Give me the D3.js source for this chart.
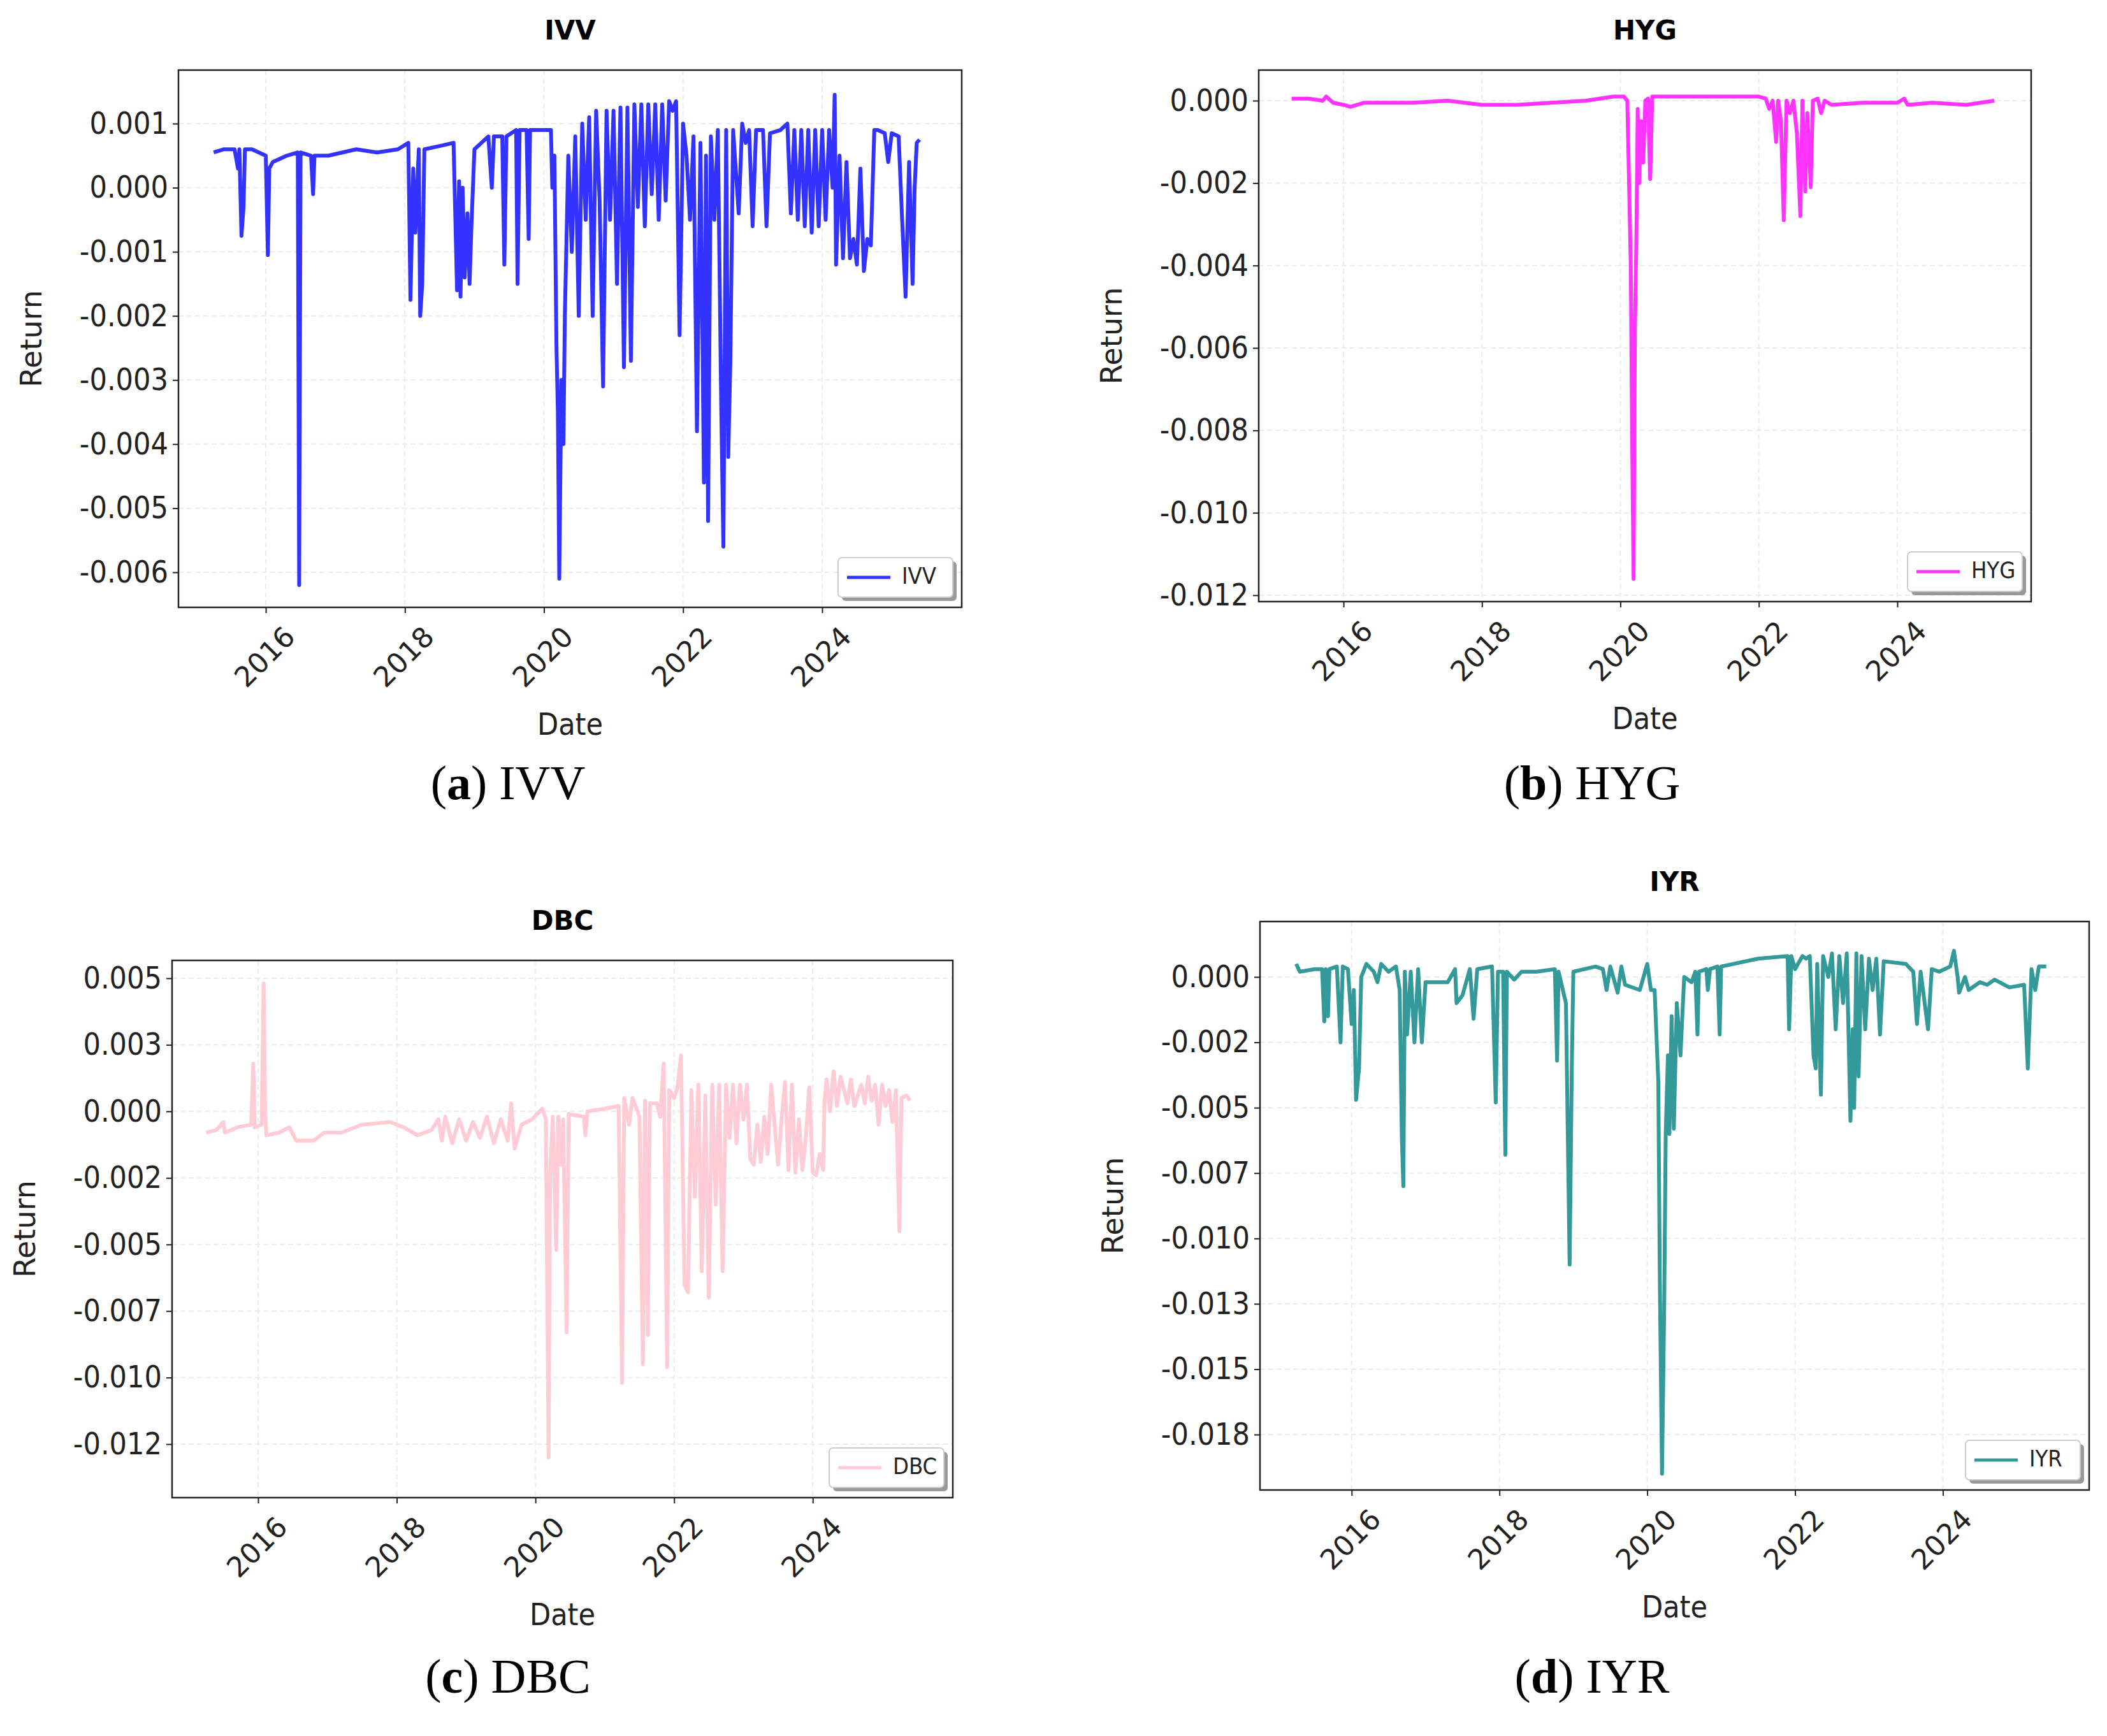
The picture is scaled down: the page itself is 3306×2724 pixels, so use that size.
<!DOCTYPE html>
<html>
<head>
<meta charset="utf-8">
<script src="https://cdn.jsdelivr.net/npm/d3@7"></script>
<style>
  body { margin: 0; background: #fff; }
  svg { display: block; }
</style>
</head>
<body>
<div id="chart"></div>
<script>
// valores en milésimas (x = año decimal, y = retorno * 1000)
const ivvData = [[2015.25,0.55],[2015.4,0.6],[2015.55,0.6],[2015.6,0.3],[2015.62,0.6],[2015.65,-0.75],[2015.68,-0.3],[2015.7,0.6],[2015.8,0.6],[2015.9,0.55],[2016.0,0.5],[2016.03,-1.05],[2016.05,0.3],[2016.1,0.4],[2016.3,0.5],[2016.46,0.55],[2016.48,-6.2],[2016.5,0.55],[2016.65,0.5],[2016.68,-0.1],[2016.7,0.5],[2016.9,0.5],[2017.3,0.6],[2017.6,0.55],[2017.9,0.6],[2018.05,0.7],[2018.08,-1.75],[2018.12,0.3],[2018.15,-0.7],[2018.2,0.6],[2018.22,-2.0],[2018.25,-1.5],[2018.28,0.6],[2018.5,0.65],[2018.7,0.7],[2018.75,-1.6],[2018.78,0.1],[2018.8,-1.7],[2018.83,0.0],[2018.86,-1.4],[2018.9,-0.4],[2018.93,-1.5],[2018.96,-0.5],[2019.0,0.6],[2019.1,0.7],[2019.2,0.8],[2019.25,0.0],[2019.28,0.8],[2019.4,0.8],[2019.43,-1.2],[2019.46,0.8],[2019.6,0.9],[2019.62,-1.5],[2019.65,0.9],[2019.75,0.9],[2019.78,-0.8],[2019.8,0.9],[2020.1,0.9],[2020.12,0.0],[2020.15,0.5],[2020.18,-2.5],[2020.2,-3.5],[2020.22,-6.1],[2020.25,-3.0],[2020.28,-4.0],[2020.3,-2.0],[2020.35,0.5],[2020.4,-1.0],[2020.45,0.8],[2020.5,-2.0],[2020.55,1.0],[2020.6,-0.5],[2020.65,1.1],[2020.7,-2.0],[2020.75,1.2],[2020.8,-0.2],[2020.85,-3.1],[2020.9,1.2],[2020.95,-0.5],[2021.0,1.2],[2021.05,-1.5],[2021.1,1.25],[2021.15,-2.8],[2021.2,1.25],[2021.25,-2.7],[2021.3,1.3],[2021.35,-0.3],[2021.4,1.3],[2021.45,-0.6],[2021.5,1.3],[2021.55,-0.1],[2021.6,1.3],[2021.65,-0.5],[2021.7,1.3],[2021.75,-0.2],[2021.8,1.35],[2021.85,1.2],[2021.9,1.35],[2021.95,-2.3],[2022.0,1.0],[2022.05,0.5],[2022.1,-0.5],[2022.15,0.8],[2022.2,-3.8],[2022.25,0.7],[2022.3,-4.6],[2022.33,0.5],[2022.36,-5.2],[2022.4,0.8],[2022.45,-0.5],[2022.5,0.9],[2022.55,-3.5],[2022.58,-5.6],[2022.62,0.9],[2022.65,-4.2],[2022.68,-2.7],[2022.72,0.9],[2022.8,-0.4],[2022.85,1.0],[2022.9,0.7],[2022.95,0.9],[2023.0,-0.6],[2023.05,0.9],[2023.15,0.9],[2023.2,-0.6],[2023.25,0.85],[2023.4,0.9],[2023.5,1.0],[2023.55,-0.4],[2023.6,0.9],[2023.65,-0.5],[2023.7,0.9],[2023.75,-0.6],[2023.8,0.9],[2023.85,-0.7],[2023.9,0.9],[2023.95,-0.6],[2024.0,0.9],[2024.05,-0.5],[2024.1,0.9],[2024.15,0.0],[2024.18,1.45],[2024.2,-1.2],[2024.25,0.5],[2024.3,-1.1],[2024.35,0.4],[2024.4,-1.1],[2024.45,-0.8],[2024.5,-1.2],[2024.55,0.3],[2024.6,-1.3],[2024.65,-0.8],[2024.7,-0.9],[2024.75,0.9],[2024.8,0.9],[2024.9,0.85],[2024.95,0.4],[2025.0,0.85],[2025.1,0.8],[2025.15,-0.5],[2025.2,-1.7],[2025.25,0.4],[2025.3,-1.5],[2025.33,0.0],[2025.36,0.7],[2025.4,0.75]];

const hygData = [[2015.25,0.05],[2015.5,0.05],[2015.7,0.0],[2015.75,0.1],[2015.85,-0.05],[2016.0,-0.1],[2016.1,-0.15],[2016.3,-0.05],[2017.0,-0.05],[2017.5,0.0],[2018.0,-0.1],[2018.5,-0.1],[2019.0,-0.05],[2019.5,0.0],[2019.9,0.1],[2020.05,0.1],[2020.1,0.0],[2020.15,-4.0],[2020.17,-8.3],[2020.19,-11.6],[2020.21,-5.5],[2020.23,-3.5],[2020.25,-0.2],[2020.27,-2.0],[2020.3,-0.5],[2020.33,-1.5],[2020.36,0.0],[2020.4,0.05],[2020.43,-1.9],[2020.46,0.1],[2021.0,0.1],[2021.5,0.1],[2022.0,0.1],[2022.1,0.05],[2022.15,-0.2],[2022.2,0.0],[2022.25,-1.0],[2022.28,0.0],[2022.32,-0.5],[2022.36,-2.9],[2022.4,0.0],[2022.45,-0.3],[2022.5,0.0],[2022.55,-0.8],[2022.6,-2.8],[2022.63,0.0],[2022.67,-2.2],[2022.7,-0.3],[2022.75,-2.1],[2022.78,0.0],[2022.85,0.05],[2022.9,-0.3],[2022.95,0.0],[2023.05,-0.1],[2023.5,-0.05],[2024.0,-0.05],[2024.1,0.05],[2024.15,-0.1],[2024.5,-0.05],[2025.0,-0.1],[2025.2,-0.05],[2025.4,0.0]];

const dbcData = [[2015.25,-0.8],[2015.4,-0.7],[2015.5,-0.4],[2015.52,-0.8],[2015.7,-0.6],[2015.9,-0.5],[2015.93,1.8],[2015.95,-0.6],[2016.05,-0.5],[2016.08,4.8],[2016.1,0.1],[2016.12,-0.9],[2016.3,-0.8],[2016.45,-0.6],[2016.55,-1.1],[2016.8,-1.1],[2016.95,-0.8],[2017.2,-0.8],[2017.5,-0.5],[2017.9,-0.4],[2018.1,-0.6],[2018.3,-0.9],[2018.5,-0.7],[2018.6,-0.3],[2018.65,-1.1],[2018.7,-0.2],[2018.8,-1.2],[2018.9,-0.3],[2019.0,-1.1],[2019.1,-0.4],[2019.2,-1.0],[2019.3,-0.2],[2019.4,-1.2],[2019.5,-0.3],[2019.6,-1.1],[2019.65,0.3],[2019.7,-1.4],[2019.8,-0.5],[2019.95,-0.3],[2020.1,0.1],[2020.15,-0.3],[2020.17,-6.7],[2020.19,-13.0],[2020.21,-2.5],[2020.25,-0.2],[2020.3,-5.2],[2020.33,-0.2],[2020.37,-2.0],[2020.4,-0.3],[2020.45,-8.3],[2020.48,-0.1],[2020.7,-0.2],[2020.72,-0.9],[2020.75,0.0],[2021.0,0.1],[2021.2,0.2],[2021.25,-10.2],[2021.28,0.5],[2021.35,-0.5],[2021.4,0.5],[2021.5,-0.2],[2021.55,-9.5],[2021.58,0.4],[2021.62,-8.4],[2021.65,0.3],[2021.75,0.3],[2021.8,-0.2],[2021.85,1.8],[2021.9,-9.6],[2021.93,0.8],[2022.0,0.5],[2022.05,0.9],[2022.1,2.1],[2022.15,-6.5],[2022.2,-6.8],[2022.25,0.8],[2022.3,-3.2],[2022.35,1.0],[2022.4,-6.0],[2022.45,0.6],[2022.5,-7.0],[2022.55,1.0],[2022.6,-3.5],[2022.65,1.0],[2022.7,-6.0],[2022.75,1.0],[2022.8,-1.0],[2022.85,1.0],[2022.9,-1.2],[2022.95,1.0],[2023.0,-0.3],[2023.05,1.0],[2023.1,-1.8],[2023.15,-2.0],[2023.2,-0.5],[2023.25,-1.9],[2023.3,-0.2],[2023.35,-1.6],[2023.4,1.0],[2023.45,-0.5],[2023.5,-2.0],[2023.55,-0.3],[2023.6,1.1],[2023.65,-2.2],[2023.7,1.0],[2023.75,-2.3],[2023.8,-0.3],[2023.85,-2.2],[2023.9,-1.0],[2023.95,0.9],[2024.0,-2.3],[2024.05,-2.4],[2024.1,-1.6],[2024.15,-2.2],[2024.17,0.4],[2024.2,1.2],[2024.25,0.0],[2024.3,1.5],[2024.35,0.2],[2024.4,1.3],[2024.5,0.3],[2024.55,1.2],[2024.6,0.2],[2024.7,1.0],[2024.75,0.3],[2024.8,1.3],[2024.85,0.4],[2024.9,1.0],[2024.95,-0.5],[2025.0,1.0],[2025.05,0.2],[2025.1,0.8],[2025.15,-0.4],[2025.2,0.8],[2025.25,-4.5],[2025.28,0.5],[2025.35,0.6],[2025.4,0.4]];

const iyrData = [[2015.25,0.5],[2015.3,0.2],[2015.5,0.3],[2015.6,0.3],[2015.63,-1.7],[2015.65,0.3],[2015.68,-1.5],[2015.7,0.3],[2015.8,0.4],[2015.85,-2.5],[2015.88,0.4],[2015.95,0.3],[2016.0,-1.8],[2016.03,-0.5],[2016.06,-4.7],[2016.1,-3.5],[2016.13,0.0],[2016.2,0.5],[2016.3,0.2],[2016.35,-0.2],[2016.4,0.5],[2016.5,0.2],[2016.6,0.4],[2016.65,-0.5],[2016.68,-6.2],[2016.7,-8.0],[2016.72,0.2],[2016.75,-2.2],[2016.8,0.2],[2016.85,-2.5],[2016.9,0.3],[2016.95,-2.5],[2017.0,-0.2],[2017.3,-0.2],[2017.4,0.3],[2017.42,-1.0],[2017.5,-0.7],[2017.6,0.3],[2017.65,-1.6],[2017.7,0.3],[2017.9,0.4],[2017.95,-4.8],[2017.98,0.2],[2018.05,0.2],[2018.08,-6.8],[2018.1,0.2],[2018.2,-0.1],[2018.3,0.2],[2018.5,0.2],[2018.75,0.3],[2018.78,-3.2],[2018.8,0.2],[2018.9,-1.0],[2018.95,-11.0],[2018.98,-3.3],[2019.0,0.2],[2019.3,0.4],[2019.4,0.3],[2019.45,-0.5],[2019.5,0.4],[2019.6,-0.6],[2019.65,0.4],[2019.7,-0.3],[2019.9,-0.5],[2020.0,0.5],[2020.05,-0.5],[2020.1,-0.5],[2020.15,-4.0],[2020.17,-11.5],[2020.2,-19.0],[2020.23,-12.5],[2020.25,-6.0],[2020.28,-3.0],[2020.3,-6.0],[2020.33,-1.5],[2020.36,-5.8],[2020.4,-1.0],[2020.45,-3.0],[2020.5,0.0],[2020.6,-0.2],[2020.65,0.2],[2020.68,-2.2],[2020.7,0.2],[2020.8,0.3],[2020.82,-0.5],[2020.85,0.3],[2020.95,0.4],[2020.98,-2.2],[2021.0,0.4],[2021.5,0.7],[2021.9,0.8],[2021.92,-2.0],[2021.95,0.8],[2022.0,0.3],[2022.1,0.8],[2022.15,0.7],[2022.2,0.8],[2022.25,-3.0],[2022.28,-3.5],[2022.3,0.5],[2022.35,-4.5],[2022.38,0.8],[2022.45,0.0],[2022.5,0.9],[2022.55,-2.0],[2022.6,0.8],[2022.65,-1.0],[2022.7,0.9],[2022.75,-5.5],[2022.78,-2.0],[2022.8,-5.0],[2022.83,0.9],[2022.86,-3.8],[2022.9,0.8],[2022.95,-2.0],[2023.0,0.7],[2023.05,-0.5],[2023.1,0.7],[2023.15,-2.2],[2023.2,0.6],[2023.5,0.5],[2023.6,0.2],[2023.65,-1.8],[2023.7,0.2],[2023.8,-2.0],[2023.85,0.3],[2023.95,0.2],[2024.1,0.4],[2024.15,1.0],[2024.2,0.0],[2024.22,-0.6],[2024.3,0.0],[2024.35,-0.5],[2024.5,-0.2],[2024.6,-0.3],[2024.7,-0.1],[2024.9,-0.4],[2025.1,-0.3],[2025.15,-3.5],[2025.2,0.3],[2025.25,-0.5],[2025.3,0.4],[2025.4,0.4]];

const yearTicks = [2016, 2018, 2020, 2022, 2024];
const ivvTicks = [1, 0, -1, -2, -3, -4, -5, -6];
const ivvLabels = ["0.001","0.000","-0.001","-0.002","-0.003","-0.004","-0.005","-0.006"];
const hygTicks = [0, -2, -4, -6, -8, -10, -12];
const hygLabels = ["0.000","-0.002","-0.004","-0.006","-0.008","-0.010","-0.012"];
const dbcTicks = [5, 2.5, 0, -2.5, -5, -7.5, -10, -12.5];
const dbcLabels = ["0.005","0.003","0.000","-0.002","-0.005","-0.007","-0.010","-0.012"];
const iyrTicks = [0, -2.5, -5, -7.5, -10, -12.5, -15, -17.5];
const iyrLabels = ["0.000","-0.002","-0.005","-0.007","-0.010","-0.013","-0.015","-0.018"];

const W = 3306, H = 2724;
const svg = d3.select("#chart").append("svg").attr("width", W).attr("height", H);

const paneles = [
  {name:"IVV", tag:"a", data:ivvData, ticks:ivvTicks, labels:ivvLabels, color:"#3333ff",
   box:[280,110,1509,953], xd:[2014.744,2026.007], yd:[1.835,-6.547], capX:797, capY:1254},
  {name:"HYG", tag:"b", data:hygData, ticks:hygTicks, labels:hygLabels, color:"#ff33ff",
   box:[1975,110,3187,944], xd:[2014.775,2025.934], yd:[0.742,-12.155], capX:2498, capY:1254},
  {name:"DBC", tag:"c", data:dbcData, ticks:dbcTicks, labels:dbcLabels, color:"#ffccd5",
   box:[270,1507,1495,2350], xd:[2014.759,2026.02], yd:[5.67,-14.51], capX:797, capY:2656},
  {name:"IYR", tag:"d", data:iyrData, ticks:iyrTicks, labels:iyrLabels, color:"#339999",
   box:[1977,1446,3278,2338], xd:[2014.76,2025.98], yd:[2.12,-19.62], capX:2498, capY:2656}
];

paneles.forEach(p => {
  const [x0, y0, x1, y1] = p.box;
  const x = d3.scaleLinear().domain(p.xd).range([x0, x1]);
  const y = d3.scaleLinear().domain(p.yd).range([y0, y1]);
  const g = svg.append("g");

  // grid
  g.selectAll(".gx").data(yearTicks).enter().append("line")
    .attr("x1", d => x(d)).attr("x2", d => x(d)).attr("y1", y0).attr("y2", y1)
    .attr("stroke", "#ececec").attr("stroke-width", 2).attr("stroke-dasharray", "8,5");
  g.selectAll(".gy").data(p.ticks).enter().append("line")
    .attr("x1", x0).attr("x2", x1).attr("y1", d => y(d)).attr("y2", d => y(d))
    .attr("stroke", "#ececec").attr("stroke-width", 2).attr("stroke-dasharray", "8,5");

  // linea
  const line = d3.line().x(d => x(d[0])).y(d => y(d[1]));
  g.append("path").datum(p.data).attr("d", line)
    .attr("fill", "none").attr("stroke", p.color).attr("stroke-width", 6)
    .attr("stroke-linejoin", "round");

  g.append("rect").attr("x", x0).attr("y", y0).attr("width", x1 - x0).attr("height", y1 - y0)
    .attr("fill", "none").attr("stroke", "#222").attr("stroke-width", 2.5);

  // ejes
  const ax = g.append("g").attr("transform", `translate(0,${y1})`)
    .call(d3.axisBottom(x).tickValues(yearTicks).tickFormat(d3.format("d")).tickSize(9).tickSizeOuter(0));
  ax.select(".domain").remove();
  ax.selectAll("line").attr("stroke", "#222").attr("stroke-width", 2);
  ax.selectAll("text").attr("font-family", "DejaVu Sans").attr("font-size", 44).attr("fill", "#222")
    .attr("text-anchor", "middle").attr("dy", null).attr("y", 0)
    .attr("transform", "translate(0,80) rotate(-45)").attr("dominant-baseline", "middle");

  const ay = g.append("g").attr("transform", `translate(${x0},0)`)
    .call(d3.axisLeft(y).tickValues(p.ticks).tickFormat((d, i) => p.labels[i]).tickSize(9).tickSizeOuter(0));
  ay.select(".domain").remove();
  ay.selectAll("line").attr("stroke", "#222").attr("stroke-width", 2);
  ay.selectAll("text").attr("font-family", "DejaVu Sans Condensed, DejaVu Sans").attr("font-size", 48)
    .attr("fill", "#222").attr("x", -16);

  // titulos
  g.append("text").attr("x", (x0 + x1) / 2).attr("y", y0 - 48).attr("text-anchor", "middle")
    .attr("font-family", "DejaVu Sans").attr("font-weight", "bold").attr("font-size", 42).text(p.name);
  g.append("text").attr("x", (x0 + x1) / 2).attr("y", y1 + 200).attr("text-anchor", "middle")
    .attr("font-family", "DejaVu Sans Condensed, DejaVu Sans").attr("font-size", 48).attr("fill", "#222").text("Date");
  g.append("text").attr("transform", `translate(${x0 - 215},${(y0 + y1) / 2}) rotate(-90)`)
    .attr("text-anchor", "middle").attr("font-family", "DejaVu Sans").attr("font-size", 46)
    .attr("fill", "#222").text("Return");

  // leyenda
  const lw = 180, lh = 62, lx = x1 - 14 - lw, ly = y1 - 16 - lh;
  g.append("rect").attr("x", lx + 6).attr("y", ly + 6).attr("width", lw).attr("height", lh)
    .attr("rx", 6).attr("fill", "#999");
  g.append("rect").attr("x", lx).attr("y", ly).attr("width", lw).attr("height", lh)
    .attr("rx", 6).attr("fill", "#fff").attr("stroke", "#ccc").attr("stroke-width", 2);
  g.append("line").attr("x1", lx + 14).attr("x2", lx + 82).attr("y1", ly + lh / 2).attr("y2", ly + lh / 2)
    .attr("stroke", p.color).attr("stroke-width", 5);
  g.append("text").attr("x", lx + 100).attr("y", ly + lh / 2).attr("dominant-baseline", "middle")
    .attr("font-family", "DejaVu Sans Condensed, DejaVu Sans").attr("font-size", 36).attr("fill", "#222").text(p.name);

  // pie de figura
  const cap = svg.append("text").attr("x", p.capX).attr("y", p.capY).attr("text-anchor", "middle")
    .attr("font-family", "Liberation Serif, DejaVu Serif").attr("font-size", 76);
  cap.append("tspan").text("(");
  cap.append("tspan").attr("font-weight", "bold").text(p.tag);
  cap.append("tspan").text(") " + p.name);
});
</script>
</body>
</html>
